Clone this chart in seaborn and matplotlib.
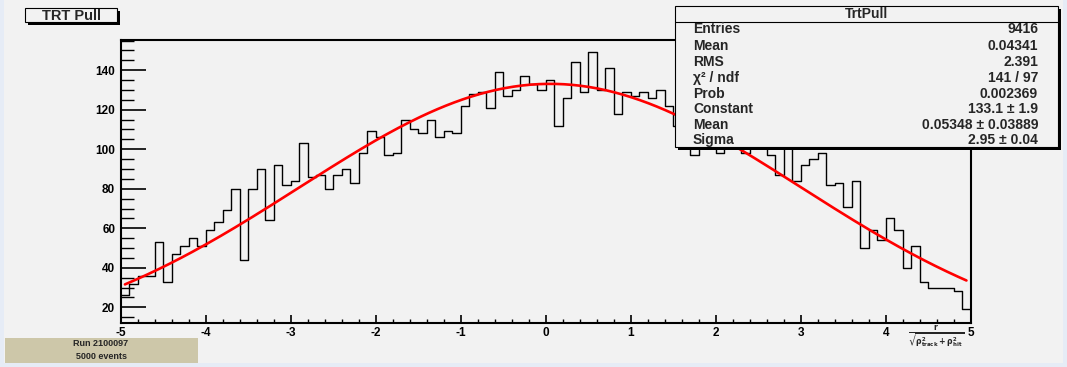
import numpy as np
import pandas as pd
import matplotlib
matplotlib.use("Agg")
import matplotlib.pyplot as plt
import seaborn as sns
from matplotlib.patches import Rectangle
from matplotlib.lines import Line2D
from matplotlib.ticker import MultipleLocator

# ---------------- data ----------------
bin_low = -5.0
bin_high = 5.0
n_bins = 100
counts = [
    26, 32, 36, 36, 53, 33, 47, 51, 55, 51,
    59, 63, 69, 80, 44, 80, 90, 64, 92, 82,
    84, 103, 86, 87, 80, 87, 90, 83, 98, 109,
    106, 97, 98, 115, 110, 108, 115, 106, 109, 108,
    122, 128, 129, 121, 139, 127, 130, 137, 133, 130,
    135, 112, 126, 144, 129, 149, 130, 141, 118, 129,
    127, 129, 126, 130, 122, 112, 118, 97, 104, 110,
    98, 106, 103, 98, 102, 108, 97, 87, 103, 84,
    92, 95, 98, 82, 83, 71, 84, 50, 59, 54,
    65, 59, 40, 51, 33, 30, 30, 30, 28, 19,
]
fit_constant = 133.1
fit_mean = 0.05348
fit_sigma = 2.95

stats_labels = ["Entries", "Mean", "RMS", "χ² / ndf", "Prob", "Constant", "Mean", "Sigma"]
stats_values = ["9416", "0.04341", "2.391", "141 / 97", "0.002369",
                "133.1 ± 1.9", "0.05348 ± 0.03889", "2.95 ± 0.04"]
hist_name = "TrtPull"
title = "TRT Pull"
run_lines = ["Run 2100097", "5000 events"]

# ---------------- style ----------------
sns.set_theme(style="white")
plt.rcParams["font.family"] = ["Liberation Sans", "DejaVu Sans"]
plt.rcParams["font.weight"] = "bold"

W, H = 1067.0, 367.0
BG = "#f2f2f2"

def fx(x):
    return x / W

def fy(y):
    return 1.0 - y / H

fig = plt.figure(figsize=(W / 100, H / 100), dpi=100)
fig.set_facecolor("#e6ecf6")
fig.patches.append(Rectangle((fx(4), fy(363)), (1063 - 4) / W, 363 / H,
                             transform=fig.transFigure, facecolor=BG,
                             edgecolor="none", zorder=-10))

ax = fig.add_axes([fx(120.7), fy(322.7), 850 / W, 282.7 / H])
ax.set_facecolor(BG)

bin_width = (bin_high - bin_low) / n_bins
centers = [bin_low + bin_width * (i + 0.5) for i in range(n_bins)]
df = pd.DataFrame({"pull": centers, "n": counts})
sns.histplot(data=df, x="pull", weights="n", bins=n_bins, binrange=(bin_low, bin_high),
             element="step", fill=False, color="black", linewidth=1.0, ax=ax)

xfit = np.linspace(-4.95, 4.95, 300)
yfit = fit_constant * np.exp(-0.5 * ((xfit - fit_mean) / fit_sigma) ** 2)
ax.plot(xfit, yfit, color="#ff0000", lw=1.9, zorder=5)

ax.set_xlim(bin_low, bin_high)
ax.set_ylim(12.2, 155.3)
ax.set_xlabel("")
ax.set_ylabel("")

ax.set_xticks(np.arange(-5, 6, 1))
ax.set_xticklabels([str(v) for v in range(-5, 6)])
ax.set_yticks(np.arange(20, 141, 20))
ax.xaxis.set_minor_locator(MultipleLocator(0.2))
ax.yaxis.set_minor_locator(MultipleLocator(5))
ax.tick_params(axis="both", which="both", direction="in", top=False, right=False,
               colors="black", labelsize=8.5)
ax.tick_params(axis="y", which="major", length=18, width=1.2, pad=4, left=True)
ax.tick_params(axis="y", which="minor", length=9, width=1.0, left=True)
ax.tick_params(axis="x", which="major", length=6, width=1.2, pad=3, bottom=True)
ax.tick_params(axis="x", which="minor", length=3, width=1.0, bottom=True)
for lbl in ax.get_xticklabels() + ax.get_yticklabels():
    lbl.set_fontweight("bold")
for s in ax.spines.values():
    s.set_visible(True)
    s.set_color("black")
    s.set_linewidth(1.5)

# x label (fraction)
fig.text(fx(936), fy(337), r"$\mathbf{\frac{r}{\sqrt{\rho^{2}_{track}+\rho^{2}_{hit}}}}$",
         fontsize=8, ha="center", va="center", zorder=6)

# title box
fig.patches.append(Rectangle((fx(28), fy(25)), 92 / W, 14 / H, transform=fig.transFigure,
                             facecolor="black", edgecolor="none", zorder=2))
fig.patches.append(Rectangle((fx(25), fy(22)), 92 / W, 14 / H, transform=fig.transFigure,
                             facecolor=BG, edgecolor="black", lw=0.8, zorder=3))
fig.text(fx(71), fy(15.5), title, fontsize=10.5, fontweight="bold", ha="center",
         va="center", zorder=4)

# stats box
bx0, bx1, by0, by1 = 675, 1058, 5.7, 146.7
fig.patches.append(Rectangle((fx(bx0 + 3), fy(by1 + 3)), (bx1 - bx0) / W, (by1 - by0) / H,
                             transform=fig.transFigure, facecolor="black",
                             edgecolor="none", zorder=2))
fig.patches.append(Rectangle((fx(bx0), fy(by1)), (bx1 - bx0) / W, (by1 - by0) / H,
                             transform=fig.transFigure, facecolor=BG,
                             edgecolor="black", lw=0.8, zorder=3))
fig.lines.append(Line2D([fx(bx0), fx(bx1)], [fy(21.7), fy(21.7)], transform=fig.transFigure,
                        color="black", lw=0.8, zorder=4))
fig.text(fx((bx0 + bx1) / 2), fy(17.5), hist_name, fontsize=10, fontweight="bold",
         ha="center", va="baseline", zorder=5)
row_y = [28, 45, 61, 77, 92.5, 108, 124, 139]
for lab, val, yy in zip(stats_labels, stats_values, row_y):
    fig.text(fx(693), fy(yy + 5), lab, fontsize=10, fontweight="bold", ha="left",
             va="baseline", zorder=5)
    fig.text(fx(1038), fy(yy + 5), val, fontsize=10, fontweight="bold", ha="right",
             va="baseline", zorder=5)

# run box
fig.patches.append(Rectangle((fx(5), fy(362.7)), 193 / W, 25 / H, transform=fig.transFigure,
                             facecolor="#cdc7a9", edgecolor="none", zorder=2))
fig.text(fx(101), fy(343.5), run_lines[0], fontsize=6.5, fontweight="bold",
         ha="center", va="center", zorder=4)
fig.text(fx(101), fy(356.5), run_lines[1], fontsize=6.5, fontweight="bold",
         ha="center", va="center", zorder=4)

fig.savefig("out.png", dpi=100, facecolor=fig.get_facecolor())
